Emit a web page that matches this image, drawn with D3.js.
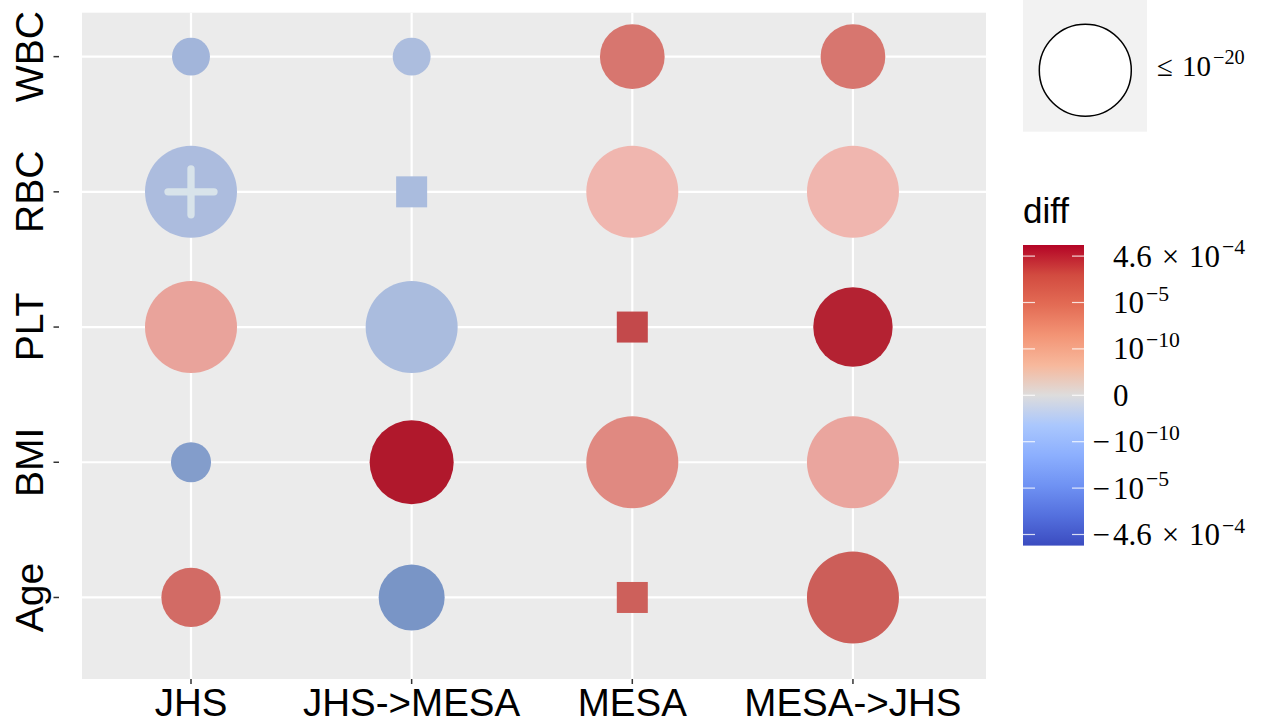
<!DOCTYPE html>
<html>
<head>
<meta charset="utf-8">
<script src="https://cdn.jsdelivr.net/npm/d3@7"></script>
<style>
  body { margin: 0; background: #fff; }
  text { font-family: 'Liberation Sans', Arial, sans-serif; }
  .math { font-family: 'Liberation Serif', 'DejaVu Serif', serif; }
</style>
</head>
<body>
<svg id="chart" width="1272" height="723"></svg>
<script>
// categories
const cohorts = ['JHS', 'JHS->MESA', 'MESA', 'MESA->JHS'];
const traits = ['WBC', 'RBC', 'PLT', 'BMI', 'Age'];

// difference per cohort, rows in traits order
const diffJHS = [-9.7e-11, -7.9e-11, 9.9e-11, -5e-8, 1.2e-5];
const diffJHSMESA = [-7.8e-11, -8.1e-11, -8.1e-11, 1.15e-3, -4e-7];
const diffMESA = [1.8e-6, 6.2e-11, 9.5e-5, 2.8e-8, 2.8e-5];
const diffMESAJHS = [1.8e-6, 6.2e-11, 7.0e-4, 9.4e-11, 3.2e-5];

// -log10(p), capped at 20; null = no p-value (drawn as square)
const nlpJHS = [3.4, 20, 20, 3.8, 8.3];
const nlpJHSMESA = [3.4, null, 20, 16.7, 10.3];
const nlpMESA = [9.9, 20, null, 20, null];
const nlpMESAJHS = [9.9, 20, 14.9, 20, 20];

// cells marked with a cross
const flagged = [['JHS', 'RBC']];

// colour bar ticks
const colorTicks = [4.6e-4, 1e-5, 1e-10, 0, -1e-10, -1e-5, -4.6e-4];
const sizeLegendValue = 20;

const diffs = [diffJHS, diffJHSMESA, diffMESA, diffMESAJHS];
const nlps = [nlpJHS, nlpJHSMESA, nlpMESA, nlpMESAJHS];

const cells = [];
cohorts.forEach((c, i) => {
  traits.forEach((t, j) => {
    cells.push({
      cohort: c, trait: t, diff: diffs[i][j], nlp: nlps[i][j],
      flag: flagged.some(f => f[0] === c && f[1] === t),
    });
  });
});

const svg = d3.select('#chart');

const panel = { left: 82, right: 986, top: 12.7, bottom: 679 };

const x = d3.scaleLinear()
  .domain([-0.494, 3.603])
  .range([panel.left, panel.right]);
const y = d3.scaleLinear()
  .domain([-0.325, 4.603])
  .range([panel.top, panel.bottom]);
const xi = c => x(cohorts.indexOf(c));
const yi = t => y(traits.indexOf(t));

// signed log-like transform used by the colour bar
const logPos = d3.scaleLinear()
  .domain([-10, -5, Math.log10(4.6e-4)])
  .range([1, 2, 3]);
const toU = (v) => {
  const a = Math.abs(v);
  if (a === 0) return 0;
  const u = a <= 1e-10 ? a / 1e-10 : logPos(Math.log10(a));
  return Math.sign(v) * u;
};
const uMax = d3.max(cells, d => Math.abs(toU(d.diff)));

// marker fill
const fill = d3.scaleLinear()
  .domain([-uMax, -1.72, -0.8, 0, 0.62, 1.5, 2.3, uMax])
  .range(['#3b4cc0', '#7995c6', '#abbcde', '#dddddd', '#f0b6af', '#e08880', '#cc5e59', '#b0182c'])
  .clamp(true);

const size = d3.scaleSqrt()
  .domain([0, 20])
  .range([0, 46])
  .clamp(true);

// panel background + grid
svg.append('rect')
  .attr('x', panel.left)
  .attr('y', panel.top)
  .attr('width', panel.right - panel.left)
  .attr('height', panel.bottom - panel.top)
  .attr('fill', '#ebebeb');

const grid = svg.append('g').attr('stroke', '#fff').attr('stroke-width', 2.2);
grid.selectAll('.gx')
    .data(cohorts)
  .enter().append('line')
    .attr('x1', xi).attr('x2', xi)
    .attr('y1', panel.top).attr('y2', panel.bottom);
grid.selectAll('.gy')
    .data(traits)
  .enter().append('line')
    .attr('y1', yi).attr('y2', yi)
    .attr('x1', panel.left).attr('x2', panel.right);

// ticks + labels
const axes = svg.append('g');
axes.selectAll('.tx')
    .data(cohorts)
  .enter().append('line')
    .attr('x1', xi).attr('x2', xi)
    .attr('y1', panel.bottom).attr('y2', panel.bottom + 5)
    .attr('stroke', '#333').attr('stroke-width', 1.5);
axes.selectAll('.lx')
    .data(cohorts)
  .enter().append('text')
    .attr('x', xi)
    .attr('y', 716)
    .attr('text-anchor', 'middle')
    .attr('font-size', 38.5)
    .attr('fill', '#000')
    .text(d => d);
axes.selectAll('.ty')
    .data(traits)
  .enter().append('line')
    .attr('y1', yi).attr('y2', yi)
    .attr('x1', 53.5).attr('x2', 59)
    .attr('stroke', '#333').attr('stroke-width', 1.5);
axes.selectAll('.ly')
    .data(traits)
  .enter().append('text')
    .attr('transform', d => `translate(43, ${yi(d)}) rotate(-90)`)
    .attr('text-anchor', 'middle')
    .attr('font-size', 39)
    .attr('fill', '#000')
    .text(d => d);

// markers
const marks = svg.append('g');
marks.selectAll('circle')
    .data(cells.filter(d => d.nlp !== null))
  .enter().append('circle')
    .attr('cx', d => xi(d.cohort))
    .attr('cy', d => yi(d.trait))
    .attr('r', d => size(d.nlp))
    .attr('fill', d => fill(toU(d.diff)));
const sq = 31;
marks.selectAll('rect')
    .data(cells.filter(d => d.nlp === null))
  .enter().append('rect')
    .attr('x', d => xi(d.cohort) - sq / 2)
    .attr('y', d => yi(d.trait) - sq / 2)
    .attr('width', sq)
    .attr('height', sq)
    .attr('fill', d => fill(toU(d.diff)));

const cross = marks.selectAll('.cross')
    .data(cells.filter(d => d.flag))
  .enter().append('g')
    .attr('transform', d => `translate(${xi(d.cohort)}, ${yi(d.trait)})`)
    .attr('stroke', '#d8e3ea')
    .attr('stroke-width', 7.3)
    .attr('stroke-linecap', 'round');
cross.append('line').attr('x1', -23).attr('x2', 23).attr('y1', 0).attr('y2', 0);
cross.append('line').attr('y1', -23).attr('y2', 23).attr('x1', 0).attr('x2', 0);

// superscript helper
const powerLabel = (sel, v, fs) => {
  if (v === 0) { sel.append('tspan').text('0'); return; }
  const e = Math.floor(Math.log10(Math.abs(v)) + 1e-9);
  const m = Math.round(Math.abs(v) / Math.pow(10, e) * 10) / 10;
  if (m !== 1) {
    sel.append('tspan').text(`${m}`);
    sel.append('tspan').attr('dx', fs * 0.32).text('×');
    sel.append('tspan').attr('dx', fs * 0.32).text('10');
  } else {
    sel.append('tspan').text('10');
  }
  sel.append('tspan')
    .attr('dx', 2)
    .attr('dy', -fs * 0.4)
    .attr('font-size', fs * 0.7)
    .text(`−${Math.abs(e)}`);
};

// size legend
const sizeKey = svg.append('g');
sizeKey.append('rect')
  .attr('x', 1023).attr('y', 0)
  .attr('width', 124).attr('height', 131.7)
  .attr('fill', '#f2f2f2');
sizeKey.append('circle')
  .attr('cx', 1085.3).attr('cy', 70.3)
  .attr('r', size(sizeLegendValue))
  .attr('fill', '#fff')
  .attr('stroke', '#000')
  .attr('stroke-width', 1.5);
const sizeText = sizeKey.append('text')
  .attr('class', 'math')
  .attr('x', 1157)
  .attr('y', 76)
  .attr('font-size', 29);
sizeText.append('tspan').text('≤');
const sizeNum = sizeKey.append('text')
  .attr('class', 'math')
  .attr('x', 1182)
  .attr('y', 76)
  .attr('font-size', 29);
powerLabel(sizeNum, Math.pow(10, -sizeLegendValue), 29);

// colour bar
const bar = { x: 1023, w: 61, top: 245, bottom: 545.6 };
const barY = d3.scaleLinear().domain([-uMax, uMax]).range([bar.bottom, bar.top]);
const coolwarm = ['#3b4cc0', '#5470de', '#6f92f3', '#8caffe', '#aac7fd', '#dddcdc',
  '#f7b89c', '#f39475', '#e36c55', '#d24b40', '#b40426'];

const defs = svg.append('defs');
const grad = defs.append('linearGradient')
  .attr('id', 'cbar')
  .attr('x1', 0).attr('y1', 1).attr('x2', 0).attr('y2', 0);
grad.selectAll('stop')
    .data(coolwarm)
  .enter().append('stop')
    .attr('offset', (d, i) => i / (coolwarm.length - 1))
    .attr('stop-color', d => d);

svg.append('text')
  .attr('x', 1023)
  .attr('y', 223)
  .attr('font-size', 35)
  .attr('fill', '#000')
  .text('diff');

svg.append('rect')
  .attr('x', bar.x).attr('y', bar.top)
  .attr('width', bar.w).attr('height', bar.bottom - bar.top)
  .attr('fill', 'url(#cbar)');

const cticks = svg.append('g').attr('stroke', '#fff').attr('stroke-opacity', 0.8).attr('stroke-width', 1.2);
colorTicks.forEach((v) => {
  const ty = barY(toU(v));
  cticks.append('line').attr('x1', bar.x).attr('x2', bar.x + 12).attr('y1', ty).attr('y2', ty);
  cticks.append('line').attr('x1', bar.x + bar.w - 12).attr('x2', bar.x + bar.w).attr('y1', ty).attr('y2', ty);
});

const clabels = svg.append('g').attr('fill', '#000');
colorTicks.forEach((v) => {
  const ty = barY(toU(v)) + 10.5;
  if (v < 0) {
    clabels.append('text')
      .attr('class', 'math')
      .attr('font-size', 31)
      .attr('x', 1110).attr('y', ty)
      .attr('text-anchor', 'end')
      .text('−');
  }
  const t = clabels.append('text')
    .attr('class', 'math')
    .attr('font-size', 31)
    .attr('x', 1113).attr('y', ty);
  powerLabel(t, Math.abs(v), 31);
});
</script>
</body>
</html>
